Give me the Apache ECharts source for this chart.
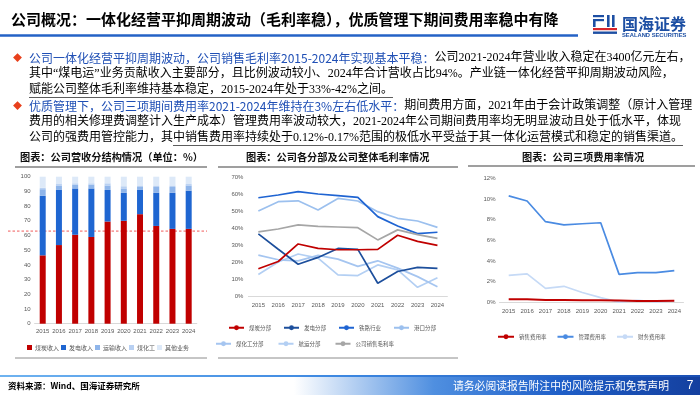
<!DOCTYPE html>
<html><head><meta charset="utf-8">
<script src="https://cdn.jsdelivr.net/npm/echarts@6/dist/echarts.min.js"></script>
<style>html,body{margin:0;padding:0;background:#fff}#c{width:700px;height:395px}</style>
</head><body><div id="c"></div><script>
// ---------- data ----------
const years = ['2015','2016','2017','2018','2019','2020','2021','2022','2023','2024'];
// chart 1: revenue structure (%)
const revNames = ['煤炭收入','发电收入','运输收入','煤化工','其他业务'];
const coalRev = [46.5,53.5,60.5,59,69.5,70,74.5,66.5,64.5,64.5];
const powerRev = [40.5,37.5,31.5,33,21.5,19,16.5,22.5,24.5,26];
const transportRev = [4.5,3,2.5,2.5,3,3,2,4,4,3.5];
const chemRev = [1,1,1,1,1.5,1.5,1,1,1,1];
const otherRev = [7.5,5,4.5,4.5,4.5,6.5,6,6,6,5];
const refLine = [63];
// chart 2: gross margin by segment (%)
const segNames = ['煤炭分部','发电分部','铁路行业','港口分部','煤化工分部','航运分部','公司销售毛利率'];
const coalSeg = [16,20.3,30.6,28,27.2,27.2,27.4,35.7,32.1,29.8];
const powerSeg = [36.5,27.5,18.7,22.7,28,27.4,7.5,14.4,16.8,16.2];
const railSeg = [57.8,59.4,61.4,60,59,58,46.7,41.2,36.7,37.5];
const portSeg = [50,55.5,56,50.6,57.4,55.9,49.6,45.7,44.1,40.4];
const chemSeg = [24,21.3,20.7,23.9,21.7,17.4,20.7,16.4,11.4,5.5];
const shipSeg = [12.7,20,24.7,22.3,12.4,12,18.3,15.4,5.1,10.8];
const grossMargin = [37.7,39.4,41.8,41,40.6,40.2,33,38.9,36.1,33.9];
// chart 3: expense ratios (%)
const rateNames = ['销售费用率','管理费用率','财务费用率'];
const salesRate = [0.3,0.3,0.22,0.22,0.2,0.2,0.17,0.12,0.12,0.14];
const mgmtRate = [10.3,9.8,7.8,7.5,7.6,7.7,2.7,2.87,2.87,3.06];
const finRate = [2.6,2.75,1.35,1.55,0.95,0.45,0.02,0.2,0.05,0.15];
// texts
const pageTitle = '公司概况：一体化经营平抑周期波动（毛利率稳），优质管理下期间费用率稳中有降';
const chartTitles = ['图表：公司营收分结构情况（单位：%）','图表：公司各分部及公司整体毛利率情况','图表：公司三项费用率情况'];
const L1b = '公司一体化经营平抑周期波动，公司销售毛利率2015-2024年实现基本平稳：';
const L1n = '公司2021-2024年营业收入稳定在3400亿元左右，';
const L2 = '其中“煤电运”业务贡献收入主要部分，且比例波动较小、2024年合计营收占比94%。产业链一体化经营平抑周期波动风险，';
const L3 = '赋能公司整体毛利率维持基本稳定，2015-2024年处于33%-42%之间。';
const L4b = '优质管理下，公司三项期间费用率2021-2024年维持在3%左右低水平：';
const L4n = '期间费用方面，2021年由于会计政策调整（原计入管理';
const L5 = '费用的相关修理费调整计入生产成本）管理费用率波动较大，2021-2024年公司期间费用率均无明显波动且处于低水平，体现';
const L6a = '公司的强费用管控能力，其';
const L6b = '中销售费用率持续处于0.12%-0.17%范围的极低水平受益于其一体化运营模式和稳定的销售渠道。';
const sourceText = '资料来源：Wind、国海证券研究所';
const disclaimer = '请务必阅读报告附注中的风险提示和免责声明';
const pageNo = '7';

// ---------- helpers ----------
const CJK = '"Noto Sans CJK SC"';
const BODY = '"Liberation Serif","Noto Sans CJK SC"';
const mctx = document.createElement('canvas').getContext('2d');
function measure(str, font){ mctx.font = font; return mctx.measureText(str).width; }

const chart = echarts.init(document.getElementById('c'));
const lab = {fontSize:6, color:'#595959', fontFamily:'"Liberation Sans",Arial,sans-serif'};
function xAx(g, margin){ return {gridIndex:g, type:'category', data:years, axisTick:{show:false},
  axisLine:{lineStyle:{color:'#d9d9d9', width:1}}, axisLabel:Object.assign({margin:margin, interval:0}, lab)}; }
function yAx(g, max, itv, fmt, margin){ return {gridIndex:g, type:'value', min:0, max:max, interval:itv,
  splitLine:{show:false}, axisLine:{show:false}, axisTick:{show:false},
  axisLabel:Object.assign({margin:margin, formatter:fmt}, lab)}; }
function bar(name, data, color){ return {name, type:'bar', stack:'rev', xAxisIndex:0, yAxisIndex:0, data, barWidth:6, itemStyle:{color}}; }
function line(name, data, color, xi, w){ return {name, type:'line', xAxisIndex:xi, yAxisIndex:xi, data, symbol:'none', smooth:false, lineStyle:{color, width:w||1.7}, itemStyle:{color}}; }

const legText = {fontSize:5.5, color:'#595959', fontFamily:CJK};
const option = {
  animation:false,
  grid:[
    {left:34.6, width:162.2, top:176.7, height:147},
    {left:248.4, width:199, top:177, height:119},
    {left:499.5, width:184, top:178.3, height:124}
  ],
  xAxis:[xAx(0,5), xAx(1,6), xAx(2,6)],
  yAxis:[yAx(0,100,10,'{value}',4), yAx(1,70,10,'{value}%',5), yAx(2,12,2,'{value}%',4)],
  legend:[
    {data:revNames, left:27, top:344.5, padding:0, itemWidth:5, itemHeight:5, itemGap:2, icon:'rect',
     textStyle:{fontSize:6, color:'#595959', fontFamily:CJK, padding:[0,0,0,-2]}},
    {data:segNames.slice(0,4), left:228, top:325, padding:0, itemWidth:15, itemHeight:6, itemGap:12, textStyle:legText},
    {data:segNames.slice(4), left:215, top:341, padding:0, itemWidth:15, itemHeight:6, itemGap:14, textStyle:legText},
    {data:rateNames, left:497, top:334, padding:0, itemWidth:16, itemHeight:6, itemGap:10, textStyle:legText}
  ],
  series:[
    bar(revNames[0], coalRev, '#c00000'),
    bar(revNames[1], powerRev, '#1f66d1'),
    bar(revNames[2], transportRev, '#8fb5ea'),
    bar(revNames[3], chemRev, '#b8d0f2'),
    bar(revNames[4], otherRev, '#dde9f8'),
    line(segNames[5], shipSeg, '#b3cff3', 1),
    line(segNames[4], chemSeg, '#a5c5f0', 1),
    line(segNames[3], portSeg, '#9cc0ee', 1),
    line(segNames[2], railSeg, '#1f64d2', 1),
    line(segNames[1], powerSeg, '#1d4f9c', 1),
    line(segNames[6], grossMargin, '#a6a6a6', 1),
    line(segNames[0], coalSeg, '#c00000', 1),
    line(rateNames[2], finRate, '#c6daf6', 2),
    line(rateNames[1], mgmtRate, '#4a8be2', 2),
    line(rateNames[0], salesRate, '#c00000', 2, 2)
  ]
};
chart.setOption(option);

// ---------- slide graphics ----------
const G = [];
function txt(x, y, text, font, fill, align){ G.push({type:'text', x, y, silent:true,
  style:{text, font, fill, align:align||'left', verticalAlign:'middle'}}); }
function rect(x, y, w, h, fill){ G.push({type:'rect', silent:true, shape:{x,y,width:w,height:h}, style:{fill}}); }
function hline(x1, x2, y, stroke, w, dash){ G.push({type:'line', silent:true, shape:{x1,y1:y,x2,y2:y}, style:{stroke, lineWidth:w, lineDash:dash||null}}); }

// header
txt(11, 19, pageTitle, 'bold 15px '+CJK, '#000');
hline(0, 578, 35.5, '#2462c6', 2.5);
// logo
const LB = '#1d4fa3', LR = '#d7262c';
rect(593,15,11,2.2,LB); rect(593,19,11,2.2,LB); rect(593,19,2.6,8,LB);
rect(607,15,2.6,12,LB); rect(612,15,2.6,12,LB);
rect(593,28,24,2.2,LR); rect(593,31.5,24,2.4,LB);
txt(622, 23.5, '国海证券', 'bold 16px '+CJK, LB);
txt(622, 35, 'SEALAND SECURITIES', 'bold 5.8px "Liberation Sans"', LB);

// body text
const TX = 29, FS = 12;
const fB = FS+'px '+CJK, fN = FS+'px '+BODY;
const blue = '#1f4fb5';
const rows = [58, 74, 90, 106, 122, 138];
txt(13, rows[0], '◆', '9px '+CJK, '#e8401c');
txt(13, rows[3], '◆', '9px '+CJK, '#e8401c');
function rich(y, parts){
  let x = TX;
  parts.forEach(p=>{ const f = p[1] ? fB : fN; txt(x, y, p[0], f, p[1] ? blue : '#000'); x += measure(p[0], f); });
  return x;
}
rich(rows[0], [[L1b,1],[L1n,0]]);
rich(rows[1], [[L2,0]]);
const e3 = rich(rows[2], [[L3,0]]);
hline(TX, e3, rows[2]+7.5, '#333', 0.8);
rich(rows[3], [[L4b,1],[L4n,0]]);
rich(rows[4], [[L5,0]]);
const s6 = TX + measure(L6a, fN);
const e6 = rich(rows[5], [[L6a,0],[L6b,0]]);
hline(s6, e6, rows[5]+7.5, '#333', 0.8);

// chart frames
txt(20, 157, chartTitles[0], 'bold 10.2px '+CJK, '#111');
txt(246, 157, chartTitles[1], 'bold 10.2px '+CJK, '#111');
txt(522, 157, chartTitles[2], 'bold 10.2px '+CJK, '#111');
hline(15, 207, 167, '#7f7f7f', 1.5);
hline(218, 458, 167, '#7f7f7f', 1.5);
hline(468, 695, 166, '#7f7f7f', 1.5);
hline(15, 207, 358, '#8c8c8c', 1);
hline(218, 458, 358, '#8c8c8c', 1);

// dashed reference line on chart 1
const yRef = chart.convertToPixel({yAxisIndex:0}, refLine[0]);
hline(8, 207, yRef, '#f05a5a', 1, [2.5,2]);

// footer
G.push({type:'rect', silent:true, shape:{x:0,y:377,width:700,height:18}, style:{fill:new echarts.graphic.LinearGradient(0,0,1,0,[
  {offset:0,color:'#ffffff'},{offset:0.42,color:'#ffffff'},{offset:0.62,color:'#4f8fe0'},{offset:0.8,color:'#1f5fc8'},{offset:1,color:'#143f9e'}])}});
G.push({type:'rect', silent:true, shape:{x:0,y:375,width:700,height:2}, style:{fill:new echarts.graphic.LinearGradient(0,0,1,0,[
  {offset:0,color:'#6fb3f0'},{offset:0.5,color:'#3b86e0'},{offset:1,color:'#1a4fb4'}])}});
txt(8, 386, sourceText, 'bold 8.5px '+CJK, '#000');
txt(453, 386, disclaimer, '10.8px '+CJK, '#fff');
txt(690, 386, pageNo, '12px "Liberation Sans"', '#fff', 'center');

chart.setOption({graphic:G});
</script></body></html>
